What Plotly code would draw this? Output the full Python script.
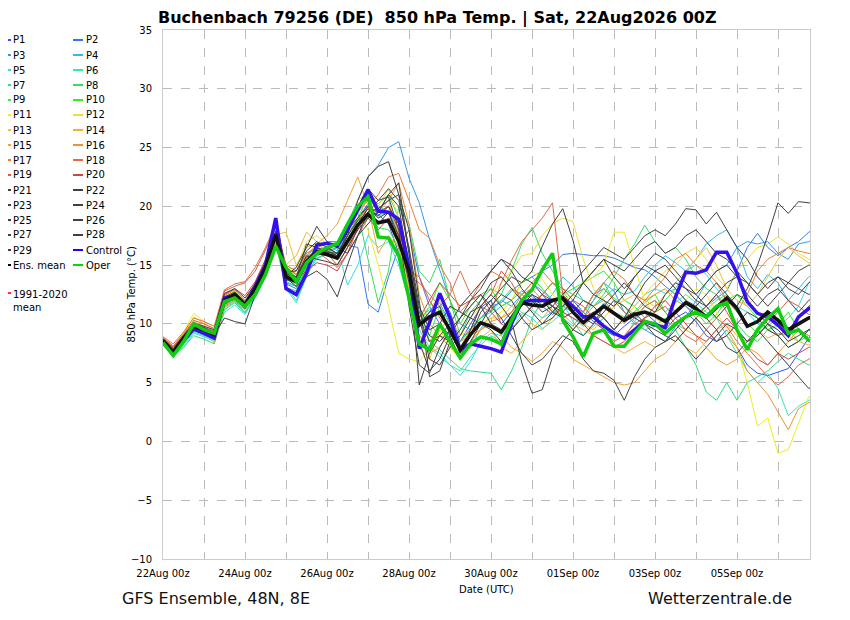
import plotly.graph_objects as go
import pandas as pd

# ---------------- data (850 hPa temperature, deg C, 6-hourly from 22Aug2026 00z) ----------------
HOURS = list(range(0, 385, 6))

ENS_MEAN = [8.6, 7.6, 8.8, 9.8, 9.5, 9.1, 12.0, 12.5, 11.6, 13.0, 14.8, 17.6, 14.0, 13.6, 15.3, 16.1, 15.9,
            15.6, 17.0, 18.4, 19.3, 18.6, 18.8, 17.0, 14.5, 9.9, 10.6, 11.0, 9.5, 7.8, 9.1, 10.1, 9.8,
            9.3, 10.5, 11.8, 11.6, 11.5, 12.0, 12.2, 11.0, 10.1, 10.8, 11.5, 10.9, 10.3, 10.8, 11.0, 10.7,
            10.2, 11.0, 11.8, 11.3, 10.6, 11.4, 12.2, 11.3, 9.8, 10.2, 11.0, 10.3, 9.5, 10.0, 10.5, 10.7]
CONTROL = [8.4, 7.5, 8.6, 9.6, 9.2, 8.8, 12.2, 12.4, 11.6, 13.2, 15.0, 19.0, 13.0, 12.5, 14.3, 16.7, 16.85,
           16.6, 18.0, 19.7, 21.4, 19.6, 19.5, 18.9, 14.8, 7.9, 10.1, 12.6, 10.5, 7.8, 8.3, 8.1, 7.9,
           7.6, 10.0, 11.9, 12.0, 12.0, 12.0, 12.2, 11.5, 10.6, 10.6, 9.8, 9.2, 8.8, 9.5, 10.2, 9.9,
           9.7, 12.3, 14.4, 14.3, 14.6, 16.1, 16.1, 14.3, 11.9, 10.9, 10.6, 9.9, 9.0, 10.6, 11.3, 11.5]
OPER = [8.4, 7.3, 8.5, 10.0, 9.5, 9.2, 11.9, 12.2, 11.5, 12.5, 14.2, 16.6, 14.8, 13.6, 15.2, 16.0, 16.5,
        16.8, 18.5, 20.0, 20.8, 17.4, 17.3, 15.8, 12.2, 8.3, 7.8, 10.0, 8.5, 7.1, 8.3, 8.9, 8.7,
        8.3, 10.3, 12.0, 12.9, 14.6, 16.0, 10.3, 8.9, 7.2, 9.2, 9.5, 8.1, 8.1, 9.2, 10.2, 10.0,
        9.2, 10.0, 10.6, 11.0, 10.6, 11.5, 11.8, 9.5, 7.8, 9.5, 10.5, 11.3, 9.2, 9.5, 8.6, 8.5]

P1 = [8.4, 7.4, 8.3, 9.4, 9.1, 8.7, 11.6, 12.2, 11.3, 12.7, 14.5, 17.3, 13.8, 13.5, 15.6, 16.3, 16.4,
      16.0, 17.5, 19.0, 20.2, 19.3, 18.5, 16.0, 12.5, 9.8, 11.0, 12.3, 11.0, 8.5, 10.0, 11.4, 12.0,
      10.0, 11.0, 12.0, 12.5, 11.5, 10.8, 11.5, 12.0, 11.0, 10.2, 9.5, 9.0, 9.8, 10.5, 11.0, 10.2,
      9.5, 10.5, 11.0, 10.2, 9.0, 8.5, 9.5, 8.0, 6.5, 5.8, 5.6, 5.9, 6.2, 7.5, 8.8, 9.5]
P2 = [8.5, 7.7, 8.6, 9.6, 9.3, 8.9, 11.8, 12.4, 11.5, 12.4, 14.0, 16.8, 13.4, 13.0, 14.8, 15.8, 16.2,
      16.5, 16.7, 16.5, 11.7, 11.0, 14.0, 16.5, 18.0, 14.0, 11.5, 10.0, 9.0, 8.5, 9.6, 10.5, 11.5,
      11.8, 12.8, 13.5, 14.0, 14.5, 15.0, 15.9, 16.0, 15.9, 15.8, 15.8, 15.6, 15.2, 14.8, 14.6, 14.0,
      13.2, 12.5, 11.5, 10.8, 11.5, 12.2, 12.8, 14.5, 16.5, 17.7, 16.5, 15.8, 16.5, 17.0, 17.8, 18.2]
P3 = [8.3, 7.6, 8.5, 9.6, 9.2, 8.8, 11.5, 12.0, 11.0, 12.4, 14.2, 17.0, 13.5, 13.2, 15.2, 16.4, 17.0,
      17.0, 18.5, 20.5, 22.5, 23.5, 25.0, 25.5, 22.4, 20.3, 17.2, 14.6, 12.0, 10.0, 9.5, 10.5, 11.2,
      12.0, 11.5, 12.5, 13.5, 12.8, 12.0, 11.5, 11.0, 10.5, 12.0, 13.5, 12.8, 11.0, 10.0, 9.5, 9.0,
      8.5, 9.8, 10.5, 12.0, 13.5, 14.5, 15.0, 16.5, 17.0, 16.8, 17.0, 16.0, 15.5, 16.8, 17.0, 17.5]
P4 = [8.6, 7.8, 8.9, 9.9, 9.6, 9.2, 12.2, 12.8, 11.8, 13.2, 15.2, 17.8, 14.5, 14.0, 15.8, 16.5, 16.8,
      16.2, 17.8, 19.5, 21.0, 20.0, 19.5, 17.8, 13.5, 10.5, 11.2, 11.8, 10.0, 7.5, 8.0, 9.6, 10.8,
      11.5, 12.0, 12.8, 12.3, 11.6, 12.5, 14.0, 13.2, 12.0, 11.5, 12.2, 13.0, 12.5, 12.8, 14.0, 15.0,
      15.8, 15.2, 14.5, 15.5, 16.8, 17.5, 18.0, 16.5, 14.0, 13.0, 14.2, 13.5, 12.0, 13.0, 14.0, 14.5]
P5 = [8.5, 7.5, 8.0, 9.2, 8.9, 8.5, 11.0, 11.6, 10.8, 12.2, 14.0, 17.5, 13.2, 12.0, 14.2, 15.5, 16.0,
      16.5, 13.3, 15.0, 17.5, 16.5, 17.0, 15.0, 12.0, 8.5, 8.0, 7.2, 6.5, 5.6, 6.8, 8.5, 9.2,
      9.0, 10.0, 11.0, 10.5, 9.6, 10.2, 11.0, 10.5, 9.8, 10.6, 11.8, 11.0, 10.6, 11.5, 12.5, 13.0,
      12.6, 13.0, 14.5, 15.0, 14.2, 13.0, 12.0, 11.5, 11.0, 10.0, 9.5, 9.8, 10.5, 11.5, 13.5, 14.0]
P6 = [8.4, 7.3, 8.2, 9.3, 9.0, 8.6, 11.3, 11.9, 11.0, 12.5, 14.3, 17.2, 13.0, 11.8, 14.0, 15.8, 16.3,
      15.8, 17.2, 18.8, 20.0, 19.2, 19.5, 18.0, 14.5, 9.5, 8.0, 7.5, 6.5, 6.0, 7.2, 8.2, 9.0,
      8.5, 9.5, 10.8, 11.2, 10.5, 11.0, 11.8, 10.2, 9.0, 9.8, 10.5, 9.5, 8.8, 10.2, 11.5, 12.0,
      11.0, 11.8, 12.5, 11.8, 11.0, 10.5, 9.0, 7.5, 6.0, 5.0, 5.8, 4.5, 2.2, 3.0, 3.5, 3.8]
P7 = [8.7, 7.6, 8.7, 9.7, 9.4, 9.0, 11.8, 12.4, 11.4, 12.8, 14.6, 17.4, 13.6, 13.2, 15.0, 16.2, 16.6,
      17.0, 18.2, 19.8, 20.5, 20.2, 21.0, 19.0, 15.5, 11.5, 8.5, 7.8, 7.0, 6.2, 6.0, 5.9, 5.8,
      4.4, 6.0, 8.0, 10.5, 12.0, 11.2, 10.5, 9.8, 11.0, 12.5, 13.5, 12.0, 11.0, 10.2, 9.5, 9.8,
      10.5, 9.5, 8.0, 6.5, 4.2, 3.5, 5.0, 3.5, 5.0, 5.5, 6.0, 6.8, 7.5, 7.0, 6.5, 6.8]
P8 = [8.3, 7.2, 8.0, 9.0, 8.7, 8.3, 11.2, 11.8, 10.9, 12.3, 14.1, 16.8, 13.1, 12.8, 14.8, 15.6, 16.0,
      16.5, 18.0, 19.5, 15.5, 11.8, 14.5, 20.0, 18.5, 14.5, 13.5, 15.5, 12.0, 9.0, 11.0, 12.0, 13.0,
      12.5, 14.5, 16.8, 18.2, 16.0, 14.5, 13.0, 12.5, 12.0, 11.5, 12.5, 14.0, 15.5, 16.8, 18.4, 17.0,
      16.0, 16.5, 15.5, 14.0, 13.0, 12.5, 11.5, 10.0, 9.0, 8.5, 9.5, 9.0, 8.0, 8.5, 9.0, 8.5]
P9 = [8.6, 7.5, 8.6, 9.8, 9.4, 9.0, 12.0, 12.4, 11.6, 13.0, 14.8, 17.2, 14.2, 13.8, 15.5, 16.0, 15.8,
      15.5, 17.2, 18.5, 19.0, 18.2, 18.0, 16.5, 13.0, 10.5, 9.0, 11.5, 10.0, 8.5, 9.5, 10.5, 11.0,
      12.0, 13.0, 12.5, 11.8, 12.5, 13.5, 12.8, 11.5, 11.0, 12.0, 13.0, 12.2, 11.5, 10.8, 11.8, 12.5,
      11.0, 10.0, 9.5, 10.5, 11.2, 12.0, 12.5, 11.0, 10.0, 9.2, 9.8, 10.5, 9.5, 8.5, 9.5, 9.0]
P10 = [8.5, 7.3, 8.4, 9.9, 9.6, 9.3, 12.1, 12.6, 11.8, 13.1, 14.9, 17.0, 13.8, 13.4, 15.1, 16.0, 16.1,
       16.0, 17.5, 19.0, 20.8, 19.5, 20.0, 18.5, 14.0, 10.0, 11.5, 13.5, 12.0, 10.0, 11.5, 12.5, 13.0,
       11.5, 12.0, 13.5, 14.0, 13.0, 12.0, 12.5, 13.0, 13.5, 14.0, 14.5, 13.5, 12.0, 11.5, 10.5, 11.0,
       12.0, 13.0, 12.0, 11.0, 10.0, 10.8, 12.0, 12.5, 11.5, 10.5, 9.5, 10.0, 11.0, 9.5, 9.0, 8.8]
P11 = [8.8, 8.0, 9.3, 10.9, 10.2, 9.5, 12.5, 12.9, 12.0, 13.5, 15.3, 17.8, 14.8, 14.2, 16.0, 16.5, 16.3,
       16.8, 18.5, 19.8, 18.0, 15.0, 11.5, 7.5, 7.0, 6.8, 8.0, 9.5, 8.0, 7.0, 8.5, 9.5, 10.5,
       11.0, 12.0, 13.5, 14.5, 13.8, 12.5, 11.8, 12.5, 13.5, 14.0, 15.0, 17.8, 17.8, 14.8, 12.0, 10.5,
       9.8, 11.0, 12.0, 13.0, 12.5, 11.0, 9.5, 8.0, 5.0, 1.3, 2.0, -1.0, -0.7, 1.6, 3.8, 4.2]
P12 = [8.7, 7.9, 9.1, 10.6, 10.0, 9.4, 12.3, 12.8, 11.9, 13.3, 15.0, 17.5, 14.6, 14.8, 17.0, 17.5, 16.8,
       16.5, 18.0, 20.5, 21.2, 20.0, 21.5, 19.0, 15.0, 10.5, 11.5, 12.0, 10.5, 9.0, 10.5, 11.5, 12.5,
       13.5, 14.5, 15.8, 16.0, 17.5, 18.5, 19.0, 18.7, 15.5, 13.0, 12.0, 11.0, 10.5, 11.5, 12.5, 13.5,
       14.5, 15.0, 16.0, 16.5, 15.5, 14.0, 13.0, 14.5, 15.5, 16.5, 16.8, 17.4, 16.8, 16.0, 15.5, 15.0]
P13 = [8.4, 7.7, 8.8, 10.2, 9.8, 9.0, 11.9, 12.3, 11.5, 12.9, 14.7, 17.6, 17.8, 15.0, 16.5, 16.8, 16.2,
       15.5, 17.5, 19.5, 20.5, 19.0, 20.0, 18.0, 13.5, 8.0, 7.0, 9.5, 10.5, 9.0, 9.5, 10.0, 10.5,
       10.5, 11.5, 11.0, 10.0, 9.5, 10.5, 11.8, 11.0, 10.0, 9.5, 10.5, 11.5, 12.0, 12.5, 12.0, 11.5,
       12.5, 13.5, 14.5, 15.5, 16.5, 15.0, 13.0, 12.0, 11.5, 12.5, 14.0, 15.5, 16.5, 15.8, 15.2, 15.0]
P14 = [8.9, 8.1, 9.2, 10.1, 9.7, 9.0, 12.2, 12.7, 11.8, 13.4, 15.3, 18.0, 15.0, 15.8, 17.8, 17.0, 16.0,
       15.0, 16.5, 18.5, 20.0, 19.5, 20.5, 17.5, 13.0, 9.0, 8.5, 10.0, 8.5, 7.5, 8.0, 8.8, 9.5,
       8.0, 7.5, 8.5, 9.5, 10.5, 11.5, 10.8, 10.0, 9.5, 9.0, 8.5, 8.0, 7.5, 8.0, 8.5, 8.0,
       8.5, 9.0, 8.0, 7.5, 8.5, 9.5, 10.0, 9.0, 8.5, 9.5, 8.8, 9.2, 9.0, 8.5, 8.2, 8.5]
P15 = [8.3, 7.4, 8.3, 9.7, 9.2, 8.4, 11.4, 12.0, 11.2, 12.6, 14.4, 16.8, 13.8, 14.5, 15.8, 16.8, 17.5,
       18.5, 20.5, 22.5, 20.0, 16.0, 17.5, 16.5, 12.5, 9.0, 7.5, 8.0, 9.5, 8.5, 9.0, 9.5, 10.0,
       9.0, 8.0, 7.5, 6.8, 7.5, 8.5, 8.0, 7.0, 6.5, 6.0, 5.5, 5.0, 4.8, 5.0, 6.0, 7.0,
       7.5, 8.5, 9.5, 9.0, 8.0, 7.0, 6.5, 7.0, 8.0, 7.5, 6.5, 7.5, 8.5, 9.5, 9.0, 8.5]
P16 = [8.5, 7.6, 8.6, 9.5, 9.1, 8.7, 11.6, 12.1, 11.3, 12.8, 14.6, 17.1, 14.0, 13.6, 15.2, 16.0, 16.2,
       16.8, 18.0, 19.5, 20.5, 19.8, 20.5, 22.0, 18.5, 12.5, 10.0, 9.0, 8.0, 7.5, 8.5, 9.5, 10.2,
       10.5, 11.0, 12.5, 13.0, 12.0, 11.5, 10.5, 9.5, 10.5, 11.5, 12.0, 11.0, 10.0, 11.0, 12.0, 12.5,
       13.0, 12.0, 11.5, 10.5, 9.5, 8.5, 9.0, 8.0, 6.0, 5.0, 4.0, 2.5, 1.0, 2.8, 3.3, 3.5]
P17 = [8.6, 7.8, 8.9, 9.9, 9.5, 9.2, 12.4, 12.9, 12.0, 13.5, 15.3, 17.9, 14.3, 14.0, 15.6, 16.4, 16.2,
       15.8, 17.0, 18.8, 20.0, 21.0, 22.5, 22.8, 20.5, 18.0, 17.3, 15.0, 13.5, 11.0, 12.0, 13.5, 14.5,
       14.0, 13.0, 12.5, 13.5, 14.5, 13.5, 12.5, 11.5, 11.0, 12.5, 13.5, 14.5, 13.8, 12.5, 12.0, 13.0,
       14.0, 15.5, 16.0, 15.0, 14.5, 13.5, 12.0, 11.0, 12.5, 14.5, 15.5, 16.0, 16.5, 16.2, 16.0, 15.8]
P18 = [8.9, 8.3, 9.3, 10.5, 10.2, 9.8, 12.9, 13.4, 13.6, 14.8, 16.5, 18.5, 15.0, 14.5, 16.0, 16.5, 16.0,
       15.0, 16.5, 18.0, 19.5, 18.5, 19.0, 17.0, 14.0, 13.5, 12.5, 11.5, 12.5, 14.5, 12.5, 11.5, 11.0,
       13.5, 15.4, 17.0, 18.0, 19.0, 20.3, 12.5, 11.5, 11.0, 12.5, 13.0, 12.0, 11.0, 10.5, 11.5, 12.0,
       11.0, 10.0, 9.0, 8.5, 9.5, 10.5, 9.8, 8.5, 7.5, 6.5, 5.5, 4.8, 5.5, 6.5, 7.0, 7.5]
P19 = [8.8, 8.1, 9.1, 10.3, 10.0, 9.6, 12.8, 13.2, 13.5, 14.5, 16.3, 18.2, 14.8, 14.2, 15.7, 16.2, 15.5,
       14.8, 16.0, 17.5, 19.0, 18.0, 19.0, 17.5, 14.5, 14.0, 12.0, 10.5, 9.5, 8.0, 9.5, 11.5, 12.5,
       14.5, 13.5, 12.0, 11.5, 12.5, 13.5, 13.0, 12.0, 11.5, 10.5, 9.5, 8.5, 9.0, 10.0, 10.5, 11.0,
       11.5, 10.5, 9.5, 10.5, 11.5, 12.5, 11.0, 9.5, 8.5, 9.0, 10.0, 11.0, 12.0, 11.5, 10.8, 11.0]
P20 = [8.7, 8.0, 9.0, 10.0, 9.7, 9.4, 12.5, 13.0, 12.4, 13.6, 15.5, 17.8, 14.4, 13.8, 14.5, 15.2, 15.0,
       14.5, 16.0, 18.2, 20.0, 19.5, 20.0, 18.0, 14.5, 10.5, 12.0, 13.5, 12.5, 11.5, 12.0, 12.5, 11.0,
       10.0, 9.5, 10.5, 11.5, 12.5, 12.0, 11.0, 10.5, 10.0, 9.0, 8.5, 8.0, 8.5, 9.5, 10.5, 11.5,
       12.0, 11.0, 10.0, 9.0, 8.5, 9.5, 10.5, 9.5, 8.0, 7.0, 6.5, 7.5, 7.0, 7.5, 8.0, 8.2]
P21 = [8.5, 7.4, 8.7, 9.8, 9.4, 9.0, 11.8, 12.3, 11.4, 12.9, 15.0, 18.8, 14.2, 13.5, 15.2, 16.5, 16.0,
       15.5, 17.5, 20.5, 22.5, 23.4, 23.8, 21.0, 16.0, 10.5, 7.0, 6.5, 8.0, 9.0, 10.5, 10.0, 9.5,
       8.5, 9.5, 10.5, 11.5, 12.0, 11.5, 10.5, 9.5, 9.0, 10.0, 11.5, 12.5, 13.5, 12.5, 11.5, 11.0,
       12.5, 13.5, 13.0, 12.0, 11.5, 12.5, 13.5, 14.0, 13.5, 12.5, 11.5, 12.5, 13.5, 14.5, 15.0, 14.8]
P22 = [8.4, 7.3, 8.5, 9.6, 9.3, 9.0, 11.9, 12.4, 11.5, 13.2, 15.3, 19.0, 14.5, 14.0, 15.5, 16.3, 16.0,
       15.8, 17.8, 20.0, 21.5, 20.5, 20.8, 18.0, 11.5, 6.5, 5.8, 8.0, 9.5, 7.5, 9.0, 11.0, 12.0,
       13.0, 14.0, 13.5, 14.5, 16.6, 18.5, 19.8, 17.1, 13.5, 12.5, 12.0, 11.5, 12.5, 14.0, 15.0, 16.0,
       15.5, 14.5, 13.5, 12.5, 13.5, 14.5, 15.0, 14.0, 12.5, 11.5, 12.5, 13.0, 12.0, 11.0, 12.0, 12.5]
P23 = [8.6, 7.7, 8.8, 9.7, 9.4, 9.1, 10.5, 10.2, 10.0, 12.5, 14.5, 17.5, 13.8, 13.5, 15.0, 16.0, 16.3,
       16.8, 18.0, 19.0, 20.0, 19.0, 19.5, 17.0, 14.0, 10.0, 11.0, 11.5, 9.0, 7.0, 9.5, 11.5, 12.5,
       11.5, 10.3, 6.7, 4.1, 4.4, 7.2, 8.5, 9.5, 10.5, 11.0, 10.5, 9.5, 10.5, 11.0, 10.0, 9.0,
       8.5, 9.5, 10.5, 11.5, 10.5, 9.5, 8.0, 7.5, 8.5, 9.5, 8.5, 7.5, 6.5, 5.5, 4.5, 5.0]
P24 = [8.5, 7.5, 8.7, 9.9, 9.6, 9.3, 12.3, 12.7, 11.9, 13.1, 14.9, 17.9, 14.4, 14.5, 16.2, 17.0, 16.5,
       16.0, 17.5, 18.8, 19.5, 18.5, 19.5, 17.5, 13.5, 8.5, 6.0, 7.0, 9.0, 10.5, 11.5, 12.5, 11.5,
       10.5, 9.0, 7.5, 6.5, 7.0, 8.0, 9.0, 8.5, 7.0, 6.0, 5.8, 5.2, 3.5, 5.5, 7.0, 8.0,
       8.5, 9.0, 8.0, 7.0, 8.0, 9.0, 10.0, 9.5, 8.5, 9.0, 10.0, 9.5, 8.5, 9.0, 9.5, 9.2]
P25 = [8.6, 7.8, 8.9, 10.0, 9.7, 9.2, 12.1, 12.6, 11.7, 13.0, 14.8, 17.7, 14.1, 14.8, 16.5, 18.3, 17.0,
       16.5, 16.0, 17.5, 18.5, 19.5, 21.0, 22.0, 16.0, 11.0, 9.0, 8.5, 9.5, 10.5, 12.0, 13.0, 14.5,
       15.5, 14.5, 13.0, 12.0, 11.0, 11.5, 12.5, 13.5, 14.5, 15.5, 16.5, 16.0, 15.5, 16.5, 17.5, 18.0,
       17.5, 18.5, 19.8, 19.7, 18.5, 19.5, 18.0, 16.5, 15.5, 14.0, 13.0, 14.0, 13.0, 12.5, 13.5, 14.0]
P26 = [8.4, 7.2, 8.4, 9.5, 9.2, 8.8, 11.7, 12.2, 11.3, 12.7, 14.6, 17.3, 13.7, 13.9, 16.8, 16.5, 16.2,
       15.8, 17.2, 18.5, 19.5, 20.5, 21.5, 20.5, 16.5, 11.5, 9.5, 10.0, 11.5, 11.0, 10.5, 12.0, 13.5,
       14.0, 13.0, 12.0, 11.0, 10.0, 10.5, 11.5, 12.5, 13.5, 14.5, 15.5, 14.0, 13.0, 14.0, 15.0, 14.5,
       14.0, 13.0, 12.0, 11.5, 12.5, 13.5, 12.5, 11.5, 13.0, 15.0, 17.5, 20.3, 19.4, 20.4, 20.3, 20.2]
P27 = [8.7, 7.9, 9.0, 10.1, 9.8, 9.5, 12.6, 13.0, 12.2, 13.4, 15.1, 17.4, 13.9, 13.2, 14.0, 14.5, 13.8,
       12.3, 15.0, 17.5, 19.5, 19.8, 20.5, 21.0, 18.0, 12.0, 5.5, 6.0, 8.5, 9.5, 11.0, 11.5, 10.0,
       9.5, 10.5, 11.5, 12.5, 12.0, 11.0, 10.5, 11.0, 12.0, 11.5, 10.5, 9.5, 10.5, 12.0, 13.5, 14.5,
       15.0, 14.0, 13.0, 12.5, 11.5, 10.5, 11.5, 12.5, 12.0, 11.0, 10.0, 9.0, 8.0, 8.5, 9.5, 10.0]
P28 = [8.3, 7.5, 8.5, 9.6, 9.3, 8.9, 11.9, 12.3, 11.6, 13.0, 14.7, 17.6, 14.2, 14.0, 15.8, 15.5, 15.3,
       15.0, 16.5, 18.0, 19.0, 19.5, 21.0, 20.0, 15.0, 10.5, 8.5, 9.0, 10.0, 11.5, 12.5, 13.5, 14.5,
       15.5, 15.0, 14.0, 13.5, 12.5, 11.5, 11.0, 12.0, 13.5, 14.5, 15.5, 15.0, 14.5, 15.5, 16.5, 17.0,
       16.0, 16.5, 17.5, 18.0, 17.0, 16.0, 15.5, 14.5, 13.5, 12.5, 13.5, 14.0, 13.5, 13.0, 12.5, 13.0]
P29 = [8.6, 7.6, 8.7, 9.8, 9.5, 9.2, 12.0, 12.6, 11.5, 13.0, 14.8, 17.8, 14.3, 13.8, 15.4, 16.2, 16.1,
       16.0, 17.2, 18.5, 19.8, 19.2, 20.0, 18.5, 14.5, 4.8, 7.5, 9.0, 8.5, 7.0, 8.5, 10.0, 11.5,
       12.5, 12.0, 10.5, 9.5, 10.0, 11.0, 12.0, 11.5, 10.5, 10.0, 11.0, 12.0, 11.5, 10.5, 10.0, 9.5,
       9.0, 8.5, 9.5, 10.5, 9.5, 8.5, 9.0, 10.0, 11.0, 10.5, 9.5, 9.0, 9.5, 10.5, 11.5, 12.0]

MEMBER_NAMES = ["P%d" % k for k in range(1, 30)]
MEMBER_COLORS = ["#3355ee", "#3377ee", "#3399ee", "#33bbee", "#33ddee", "#33e8b4", "#33dd88", "#33dd66",
                 "#33ee44", "#33ee22", "#eeee22", "#eedd33", "#f0c434", "#f0b434", "#f0a434", "#e89434",
                 "#e88038", "#e06c48", "#d85c48", "#c84848"] + ["#404040"] * 9

members = [P1, P2, P3, P4, P5, P6, P7, P8, P9, P10, P11, P12, P13, P14, P15, P16, P17, P18, P19, P20,
           P21, P22, P23, P24, P25, P26, P27, P28, P29]
for s in members + [ENS_MEAN, CONTROL, OPER]:
    assert len(s) == len(HOURS), len(s)

times = pd.Timestamp("2026-08-22 00:00") + pd.to_timedelta(HOURS, unit="h")

# ---------------- figure ----------------
FONT = "DejaVu Sans"
OFF = 8                      # page body margin of the browser
L, R, T, B = 163, 810, 30, 559   # plot area in screen pixels
W, H = R - L, B - T
FIG_W, FIG_H = 850 - OFF, 620 - OFF


def xp(px):
    return (px - L) / W


def yp(py):
    return 1 - (py - T) / H


fig = go.Figure()
for name, col, vals in zip(MEMBER_NAMES, MEMBER_COLORS, members):
    fig.add_trace(go.Scatter(x=times, y=vals, mode="lines", name=name,
                             line=dict(color=col, width=1), showlegend=False))
fig.add_trace(go.Scatter(x=times, y=CONTROL, mode="lines", name="Control",
                         line=dict(color="#3311ee", width=3.5), showlegend=False))
fig.add_trace(go.Scatter(x=times, y=ENS_MEAN, mode="lines", name="Ens. mean",
                         line=dict(color="#111111", width=3.5), showlegend=False))
fig.add_trace(go.Scatter(x=times, y=OPER, mode="lines", name="Oper",
                         line=dict(color="#11cc11", width=3.5), showlegend=False))

# ---- custom two-column legend ----
legend_col1 = [(MEMBER_NAMES[k], MEMBER_COLORS[k]) for k in range(0, 29, 2)] + [("Ens. mean", "#000000")]
legend_col2 = [(MEMBER_NAMES[k], MEMBER_COLORS[k]) for k in range(1, 29, 2)] + [("Control", "#2200ff"),
                                                                               ("Oper", "#00dd00")]
shapes = []
annotations = []
for col_items, x0, x1, xt in [(legend_col1, 8, 11, 11), (legend_col2, 73, 83, 84)]:
    for r, (nm, c) in enumerate(col_items):
        py = 40 + 15 * r
        shapes.append(dict(type="line", xref="paper", yref="paper", x0=xp(x0), x1=xp(x1),
                           y0=yp(py), y1=yp(py), line=dict(color=c, width=2)))
        annotations.append(dict(text=nm, xref="paper", yref="paper", x=xp(xt), y=yp(py),
                                xanchor="left", yanchor="middle", showarrow=False,
                                font=dict(family=FONT, size=10, color="#000000")))
shapes.append(dict(type="line", xref="paper", yref="paper", x0=xp(8), x1=xp(11),
                   y0=yp(293), y1=yp(293), line=dict(color="#ff3333", width=2)))
annotations.append(dict(text="1991-2020<br>mean", xref="paper", yref="paper", x=xp(11), y=yp(287),
                        xanchor="left", yanchor="top", align="left", showarrow=False,
                        font=dict(family=FONT, size=10, color="#000000")))

# ---- titles / captions ----
annotations.append(dict(text="<b>Buchenbach 79256 (DE)\u00a0\u00a0850 hPa Temp. | Sat, 22Aug2026 00Z</b>",
                        xref="paper", yref="paper", x=xp(157), y=yp(18.5), xanchor="left", yanchor="middle",
                        showarrow=False, borderpad=0,
                        font=dict(family=FONT, size=16, color="#000000")))
annotations.append(dict(text="850 hPa Temp. (°C)", xref="paper", yref="paper", x=xp(131), y=0.5,
                        textangle=-90, xanchor="center", yanchor="middle", showarrow=False,
                        font=dict(family=FONT, size=10, color="#000000")))
annotations.append(dict(text="Date (UTC)", xref="paper", yref="paper", x=0.5, y=yp(589),
                        xanchor="center", yanchor="middle", showarrow=False,
                        font=dict(family=FONT, size=10, color="#000000")))
annotations.append(dict(text="GFS Ensemble, 48N, 8E", xref="paper", yref="paper", x=xp(120), y=yp(598),
                        xanchor="left", yanchor="middle", showarrow=False,
                        font=dict(family=FONT, size=16, color="#111111")))
annotations.append(dict(text="Wetterzentrale.de", xref="paper", yref="paper", x=xp(794), y=yp(598),
                        xanchor="right", yanchor="middle", showarrow=False,
                        font=dict(family=FONT, size=16, color="#111111")))

x_end = pd.Timestamp("2026-08-22 00:00") + pd.Timedelta(hours=W / (82.0 / 48.0))

fig.update_layout(
    width=FIG_W, height=FIG_H,
    margin=dict(l=L - OFF, r=850 - R, t=T - OFF, b=620 - B, pad=0),
    paper_bgcolor="white", plot_bgcolor="white",
    showlegend=False,
    shapes=shapes, annotations=annotations,
    font=dict(family=FONT, size=10, color="#000000"),
)
fig.update_xaxes(
    type="date", range=[times[0], x_end],
    tick0="2026-08-22", dtick=2 * 86400000, tickformat="%d%b %Hz",
    showgrid=True, gridcolor="#bbbbbb", griddash="dash", gridwidth=1,
    minor=dict(dtick=86400000, tick0="2026-08-22", showgrid=True, gridcolor="#bbbbbb",
               griddash="dash", gridwidth=1),
    showline=True, linecolor="#cccccc", linewidth=1, mirror=True,
    ticks="", ticklabelstandoff=5, tickfont=dict(family=FONT, size=10, color="#000000"),
    zeroline=False,
)
fig.update_yaxes(
    range=[-10, 35], tick0=-10, dtick=5,
    showgrid=True, gridcolor="#bbbbbb", griddash="dash", gridwidth=1,
    showline=True, linecolor="#cccccc", linewidth=1, mirror=True,
    ticks="", ticklabelstandoff=8, tickfont=dict(family=FONT, size=10, color="#000000"),
    zeroline=False,
)

fig.write_html("out.html")
